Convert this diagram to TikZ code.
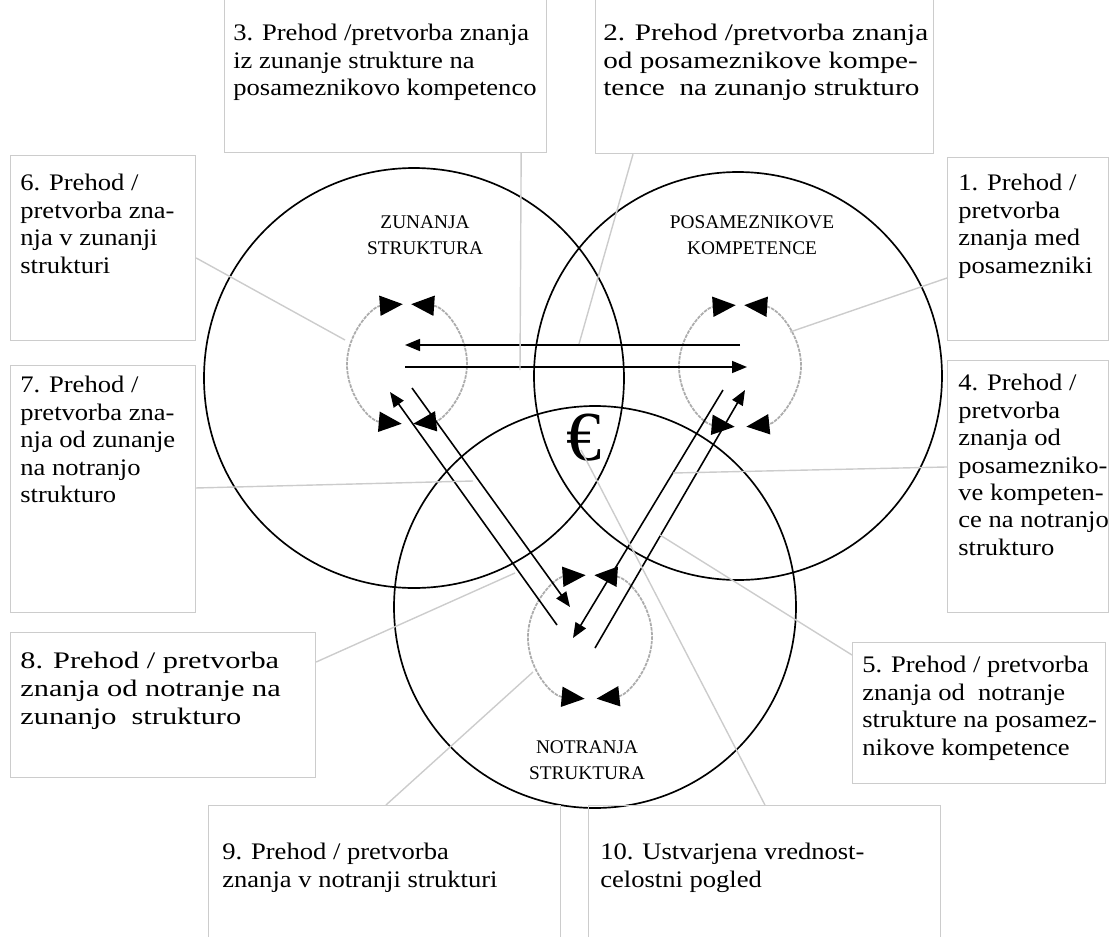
\documentclass[tikz,border=0pt]{standalone}
\usepackage{fontspec}
\setmainfont{Liberation Serif}[FakeStretch=1.12]
\newfontfamily\krogfont{Liberation Serif}
\newfontfamily\sirokfont{Liberation Serif}[FakeStretch=1.23]
\newfontfamily\sirsifont{Liberation Serif}[FakeStretch=1.28]
\usepackage{tikz}
\usetikzlibrary{arrows.meta, positioning}

\begin{document}
\begin{tikzpicture}[
        x=0.02cm, y=-0.02cm,
        okvir/.style={draw=gray!40, line width=0.7pt, anchor=north west, inner sep=0pt},
        besedilo/.style={anchor=north west, align=left, inner sep=0pt, font=\fontsize{13.5}{15.6}\selectfont},
        krog/.style={line width=0.95pt},
        oznaka/.style={align=center, inner sep=0pt, font=\krogfont\fontsize{11}{15}\selectfont},
        povezava/.style={draw=gray!40, line width=0.8pt},
        puscica/.style={line width=0.9pt, -{Triangle[length=0.3cm, width=0.24cm]}},
        cikel/.style={draw=gray!65, line width=1pt, dash pattern=on 2pt off 0.6pt, {Triangle[length=0.46cm, width=0.4cm, color=black]}-{Triangle[length=0.46cm, width=0.4cm, color=black]}}
    ]
    \useasboundingbox (0,0) rectangle (1113,937);

    % veliki krogi
    \draw[krog] (414,378) circle[radius=210];
    \draw[krog] (738,376) circle[radius=204];
    \draw[krog] (595,607) circle[radius=201];

    \node[oznaka] (zs) at (425,235) {ZUNANJA\\STRUKTURA};
    \node[oznaka] (pk) at (752,235) {POSAMEZNIKOVE\\KOMPETENCE};
    \node[oznaka] (ns) at (587,760) {NOTRANJA\\STRUKTURA};
    \node[inner sep=0pt, font=\krogfont\fontsize{40}{40}\selectfont] (eur) at (584,438) {€};

    % mali krogi (kroženje znanja)
    \coordinate (sl) at (407,364);
    \coordinate (sr) at (740,366);
    \coordinate (sb) at (590,637);
    \draw[cikel] ([shift={(95:60)}]sl) arc[start angle=95, end angle=266, radius=60];
    \draw[cikel] ([shift={(-86:60)}]sl) arc[start angle=-86, end angle=84, radius=60];
    \draw[cikel] ([shift={(95:61)}]sr) arc[start angle=95, end angle=266, radius=61];
    \draw[cikel] ([shift={(-86:61)}]sr) arc[start angle=-86, end angle=84, radius=61];
    \draw[cikel] ([shift={(95:62)}]sb) arc[start angle=95, end angle=266, radius=62];
    \draw[cikel] ([shift={(-86:62)}]sb) arc[start angle=-86, end angle=84, radius=62];

    % puscice med krogi
    \coordinate (p1a) at (740,345);
    \coordinate (p1b) at (405,345);
    \coordinate (p2a) at (405,367);
    \coordinate (p2b) at (747,367);
    \coordinate (p3a) at (557,625);
    \coordinate (p3b) at (390,392);
    \coordinate (p4a) at (412,388);
    \coordinate (p4b) at (570,607);
    \coordinate (p5a) at (723,390);
    \coordinate (p5b) at (573,638);
    \coordinate (p6a) at (595,648);
    \coordinate (p6b) at (745,390);
    \draw[puscica] (p1a) -- (p1b);
    \draw[puscica] (p2a) -- (p2b);
    \draw[puscica] (p3a) -- (p3b);
    \draw[puscica] (p4a) -- (p4b);
    \draw[puscica] (p5a) -- (p5b);
    \draw[puscica] (p6a) -- (p6b);

    % okvirji z besedilom
    \node[okvir, minimum width=6.44cm, minimum height=3.14cm] (b3) at (224,-5) {};
    \node[besedilo] (t3) at (233,24) {3. Prehod /pretvorba znanja\\iz zunanje strukture na\\posameznikovo kompetenco};
    \node[okvir, minimum width=6.76cm, minimum height=3.16cm] (b2) at (595,-5) {};
    \node[besedilo, font=\sirokfont\fontsize{13.5}{15.6}\selectfont] (t2) at (603,24) {2. Prehod /pretvorba znanja\\od posameznikove kompe-\\tence\ \ na zunanjo strukturo};
    \node[okvir, minimum width=3.7cm, minimum height=3.7cm] (b6) at (10,155) {};
    \node[besedilo] (t6) at (20,174) {6. Prehod /\\pretvorba zna-\\nja v zunanji\\strukturi};
    \node[okvir, minimum width=3.22cm, minimum height=3.66cm] (b1) at (947,157) {};
    \node[besedilo] (t1) at (958,174) {1. Prehod /\\pretvorba\\znanja med\\posamezniki};
    \node[okvir, minimum width=3.7cm, minimum height=4.94cm] (b7) at (10,365) {};
    \node[besedilo] (t7) at (20,376) {7. Prehod /\\pretvorba zna-\\nja od zunanje\\na notranjo\\strukturo};
    \node[okvir, minimum width=3.22cm, minimum height=5.04cm] (b4) at (947,360) {};
    \node[besedilo] (t4) at (958,374) {4. Prehod /\\pretvorba\\znanja od\\posamezniko-\\ve kompeten-\\ce na notranjo\\strukturo};
    \node[okvir, minimum width=6.1cm, minimum height=2.9cm] (b8) at (10,632) {};
    \node[besedilo, font=\sirsifont\fontsize{13.5}{15.9}\selectfont] (t8) at (20,652) {8. Prehod / pretvorba\\znanja od notranje na\\zunanjo\ \ strukturo};
    \node[okvir, minimum width=5.06cm, minimum height=2.82cm] (b5) at (852,642) {};
    \node[besedilo] (t5) at (862,656) {5. Prehod / pretvorba\\znanja od\ \ notranje\\strukture na posamez-\\nikove kompetence};
    \node[okvir, minimum width=7.04cm, minimum height=2.9cm] (b9) at (208,805) {};
    \node[besedilo] (t9) at (222,843) {9. Prehod / pretvorba\\znanja v notranji strukturi};
    \node[okvir, minimum width=7.04cm, minimum height=2.9cm] (b10) at (588,805) {};
    \node[besedilo] (t10) at (600,843) {10. Ustvarjena vrednost-\\celostni pogled};

    % povezave od okvirjev
    \coordinate (c1) at (790,332);
    \coordinate (c2) at (579,344);
    \coordinate (c3) at (520,370);
    \coordinate (c4) at (673,473);
    \coordinate (c5) at (660,535);
    \coordinate (c6) at (345,340);
    \coordinate (c7) at (473,481);
    \coordinate (c8) at (515,573);
    \coordinate (c9) at (533,672);
    \coordinate (c10) at (581,450);
    \draw[povezava] ([yshift=-2.42cm]b1.north west) -- (c1);
    \draw[povezava] ([xshift=0.76cm]b2.south west) -- (c2);
    \draw[povezava] ([xshift=-0.52cm]b3.south east) -- (c3);
    \draw[povezava] ([yshift=-2.14cm]b4.north west) -- (c4);
    \draw[povezava] ([yshift=-0.26cm]b5.north west) -- (c5);
    \draw[povezava] ([yshift=-2.06cm]b6.north east) -- (c6);
    \draw[povezava] ([yshift=-2.46cm]b7.north east) -- (c7);
    \draw[povezava] ([yshift=-0.6cm]b8.north east) -- (c8);
    \draw[povezava] ([xshift=3.56cm]b9.north west) -- (c9);
    \draw[povezava] ([xshift=3.54cm]b10.north west) -- (c10);
\end{tikzpicture}
\end{document}
